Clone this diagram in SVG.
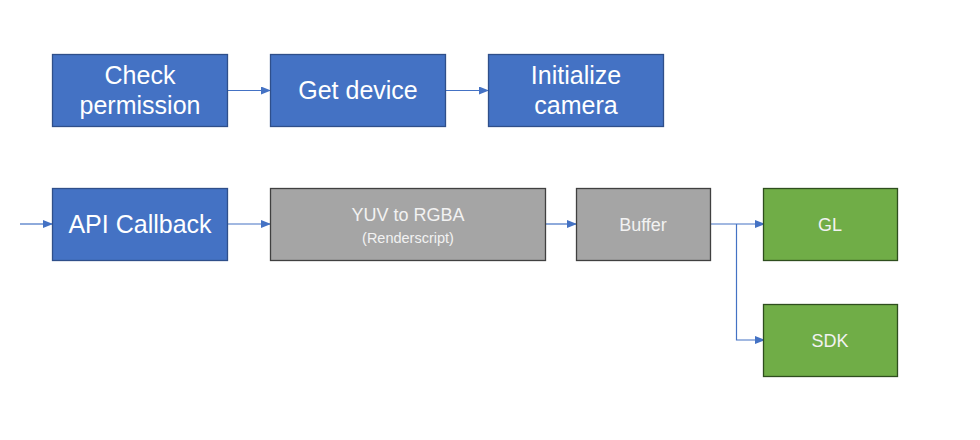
<svg xmlns="http://www.w3.org/2000/svg" width="980" height="440" viewBox="0 0 980 440">
<defs>
<marker id="ah" markerWidth="10" markerHeight="8" refX="9" refY="4" orient="auto" markerUnits="userSpaceOnUse">
<path d="M0,0 L10,4 L0,8 Z" fill="#4472C4"/>
</marker>
<style>
.blue{fill:#4472C4;stroke:#2F4F8A;stroke-width:1.3}
.gray{fill:#A5A5A5;stroke:#404040;stroke-width:1.3}
.green{fill:#70AD47;stroke:#2E4E1E;stroke-width:1.3}
.t{font-family:"Liberation Sans",Arial,sans-serif;fill:#FFFFFF;text-anchor:middle}
.big{font-size:25px}
.mid{font-size:18px;fill:#F2F2F2}
.sm{font-size:14.5px;fill:#F2F2F2}
.c{fill:none;stroke:#4472C4;stroke-width:1.2}
</style>
</defs>
<rect width="980" height="440" fill="#FFFFFF"/>
<g id="connectors">
<path class="c" d="M228,90.5 H270" marker-end="url(#ah)"/>
<path class="c" d="M446,90.5 H488" marker-end="url(#ah)"/>
<path class="c" d="M20,224 H52" marker-end="url(#ah)"/>
<path class="c" d="M228,224 H270" marker-end="url(#ah)"/>
<path class="c" d="M546,224 H576" marker-end="url(#ah)"/>
<path class="c" d="M710,224 H764" marker-end="url(#ah)"/>
<path class="c" d="M736.5,224 V340 H764" marker-end="url(#ah)"/>
</g>
<g id="check-permission">
<rect class="blue" x="52.5" y="54.5" width="175" height="72"/>
<text class="t big" x="140" y="84">Check</text>
<text class="t big" x="140" y="114">permission</text>
</g>
<g id="get-device">
<rect class="blue" x="270.5" y="54.5" width="175" height="72"/>
<text class="t big" x="358" y="99">Get device</text>
</g>
<g id="initialize-camera">
<rect class="blue" x="488.5" y="54.5" width="175" height="72"/>
<text class="t big" x="576" y="84">Initialize</text>
<text class="t big" x="576" y="114">camera</text>
</g>
<g id="api-callback">
<rect class="blue" x="52.5" y="188.5" width="175" height="72"/>
<text class="t big" x="140" y="233">API Callback</text>
</g>
<g id="yuv-to-rgba">
<rect class="gray" x="270.5" y="188.5" width="275" height="72"/>
<text class="t mid" x="408" y="221">YUV to RGBA</text>
<text class="t sm" x="408" y="243">(Renderscript)</text>
</g>
<g id="buffer">
<rect class="gray" x="576.5" y="188.5" width="134" height="72"/>
<text class="t mid" x="643" y="231">Buffer</text>
</g>
<g id="gl">
<rect class="green" x="763.5" y="188.5" width="134" height="72"/>
<text class="t mid" x="830" y="231">GL</text>
</g>
<g id="sdk">
<rect class="green" x="763.5" y="304.5" width="134" height="72"/>
<text class="t mid" x="830" y="347">SDK</text>
</g>
</svg>
